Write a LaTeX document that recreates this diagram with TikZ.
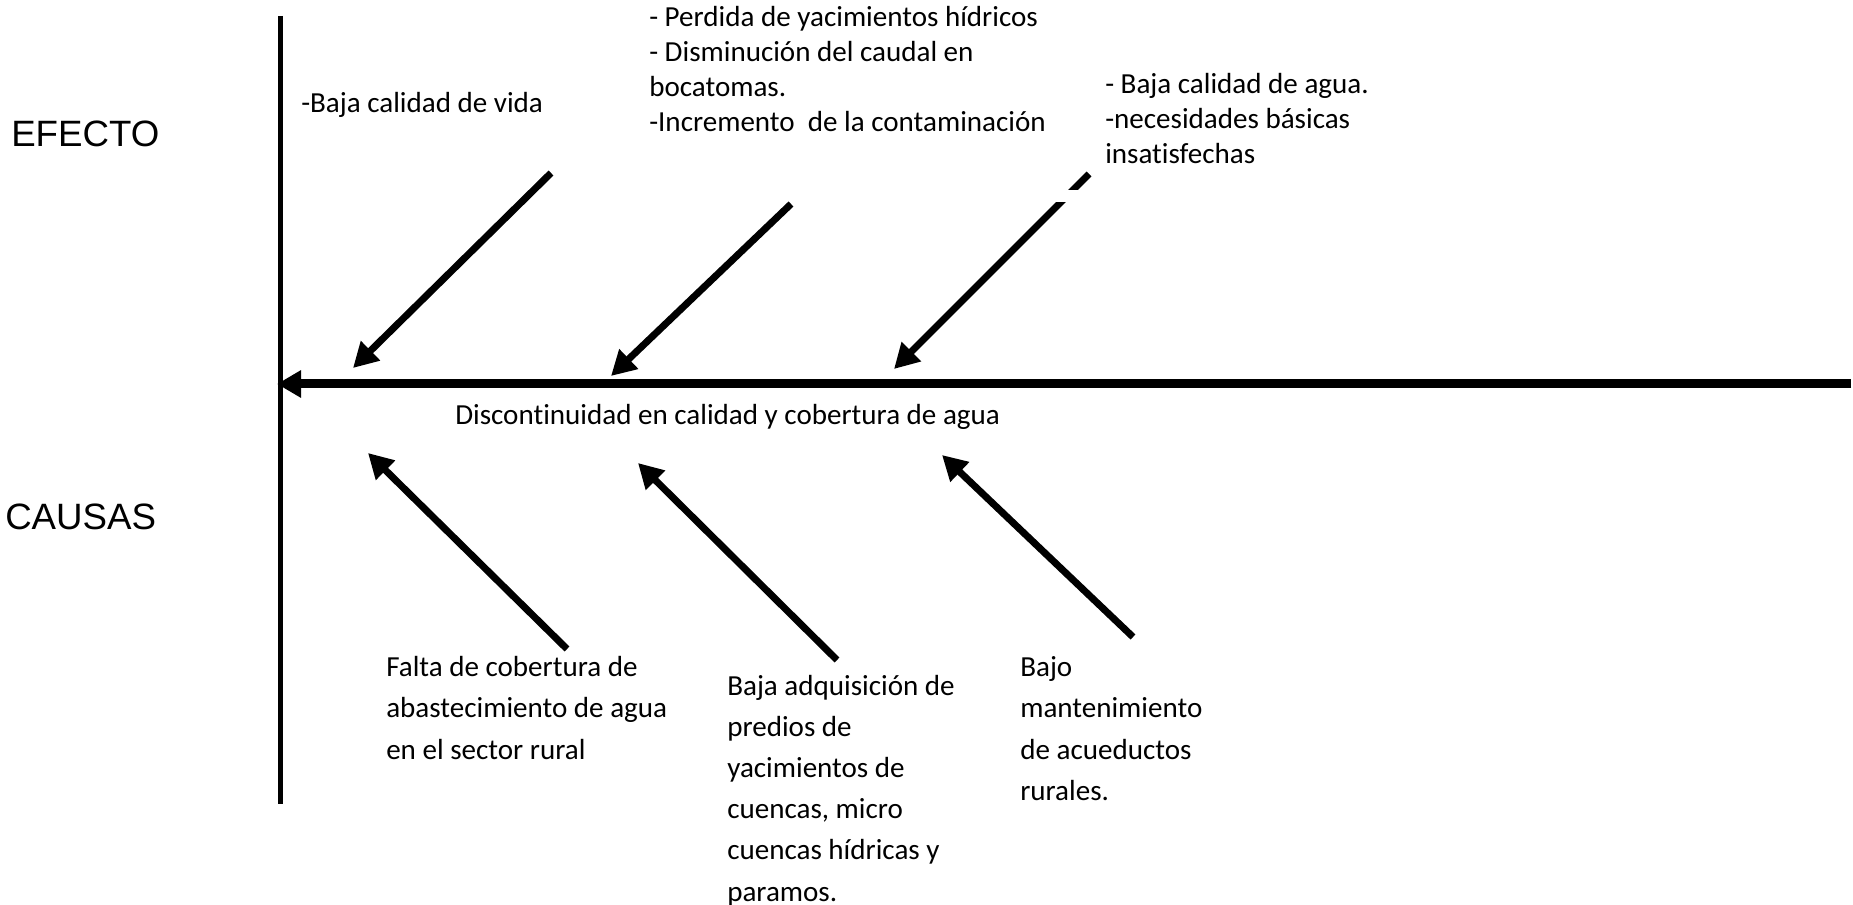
\documentclass[tikz,border=0pt]{standalone}
\usepackage{fontspec}
\setmainfont{Carlito}[Ligatures=NoCommon]
\newfontfamily\arialfont{Liberation Sans}
\usetikzlibrary{arrows.meta}
\begin{document}
\begin{tikzpicture}[x=0.75pt,y=-0.75pt,
  txt/.style={anchor=north west, inner sep=0pt, align=left, font=\fontsize{21.8pt}{26.25pt}\selectfont},
  txtlow/.style={anchor=north west, inner sep=0pt, align=left, font=\fontsize{21.8pt}{30.9pt}\selectfont},
  side/.style={anchor=base west, inner sep=0pt, font=\arialfont\fontsize{27.5pt}{33pt}\selectfont},
  bone/.style={line width=5.25pt, -{Triangle[length=18.5pt,width=19.5pt]}},
  spine/.style={line width=6.75pt, -{Triangle[length=18pt,width=19.5pt]}},
  axis/.style={line width=3.75pt}]
\useasboundingbox (0,0) rectangle (1853,905);
\fill[white] (0,0) rectangle (1853,905);

% axis and spine
\coordinate (vtop) at (280,16);
\coordinate (vbot) at (280,804);
\coordinate (spR) at (1851,384);
\coordinate (spL) at (277,384);
\draw[axis] (vtop) -- (vbot);
\draw[spine] (spR) -- (spL);

% side labels
\node[side] (efecto) at (11,147) {EFECTO};
\node[side] (causas) at (5,529) {CAUSAS};

% effect texts
\node[txt] (e1) at (301,88) {\strut-Baja calidad de vida};
\node[txt] (e2) at (649,2) {\strut- Perdida de yacimientos hídricos\\- Disminución del caudal en\\bocatomas.\\-Incremento\ \ de la contaminación};
\node[txt] (e3) at (1105,68.5) {\strut- Baja calidad de agua.\\-necesidades básicas\\insatisfechas};
\node[txt] (prob) at (455,400) {\strut Discontinuidad en calidad y cobertura de agua};

% cause texts
\node[txtlow] (c1) at (386,647.5) {\strut Falta de cobertura de\\abastecimiento de agua\\en el sector rural};
\node[txtlow] (c2) at (727,666) {\strut Baja adquisición de\\predios de\\yacimientos de\\cuencas, micro\\cuencas hídricas y\\paramos.};
\node[txtlow] (c3) at (1020,647.5) {\strut Bajo\\mantenimiento\\de acueductos\\rurales.};

% effect arrows
\coordinate (a1s) at (551,173); \coordinate (a1t) at (353,368);
\coordinate (a2s) at (791,204); \coordinate (a2t) at (611,376);
\coordinate (a3s) at (1089,174); \coordinate (a3t) at (894,369);
\draw[bone] (a1s) -- (a1t);
\draw[bone] (a2s) -- (a2t);
\draw[bone] (a3s) -- (a3t);
\fill[white] (1050,190) rectangle (1086,202);

% cause arrows
\coordinate (b1s) at (567,649); \coordinate (b1t) at (368,453);
\coordinate (b2s) at (837,660); \coordinate (b2t) at (638,463);
\coordinate (b3s) at (1133,637); \coordinate (b3t) at (942,455);
\draw[bone] (b1s) -- (b1t);
\draw[bone] (b2s) -- (b2t);
\draw[bone] (b3s) -- (b3t);
\end{tikzpicture}
\end{document}
